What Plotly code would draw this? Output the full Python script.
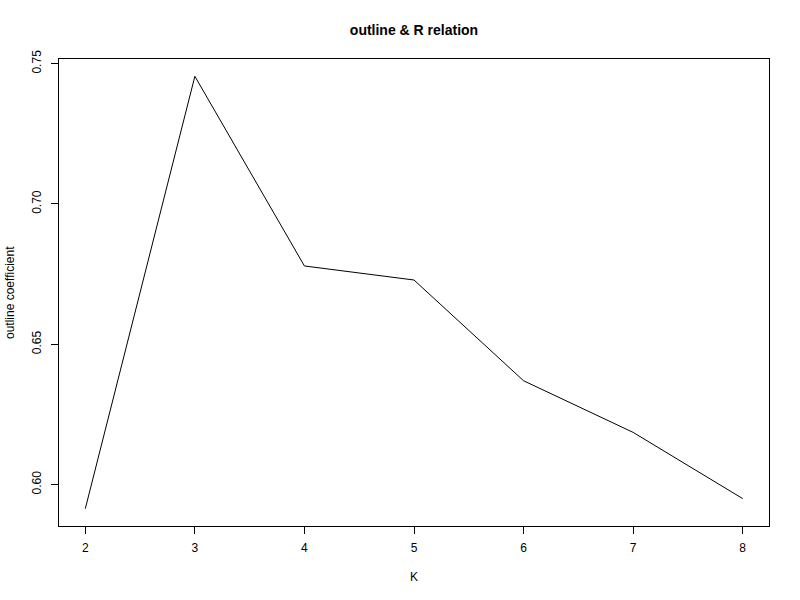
import plotly.graph_objects as go

k_values = [2, 3, 4, 5, 6, 7, 8]
coef_values = [0.5914, 0.7455, 0.6779, 0.6729, 0.6370, 0.6186, 0.5950]
x_ticks = [2, 3, 4, 5, 6, 7, 8]
y_ticks = [0.60, 0.65, 0.70, 0.75]
y_tick_text = ["0.60", "0.65", "0.70", "0.75"]

FONT = "Liberation Sans, Arial, Helvetica, sans-serif"

fig = go.Figure()
fig.add_trace(go.Scatter(x=k_values, y=coef_values, mode="lines",
                         line=dict(color="black", width=1), showlegend=False,
                         hoverinfo="skip"))

xmin, xmax = min(k_values), max(k_values)
ymin, ymax = min(coef_values), max(coef_values)
xpad = (xmax - xmin) * 0.04
ypad = (ymax - ymin) * 0.04

L, R, T, B = 59, 31, 59, 74
plot_w = 800 - L - R
plot_h = 600 - T - B

fig.update_layout(
    width=800, height=600,
    margin=dict(l=L, r=R, t=T, b=B),
    paper_bgcolor="white", plot_bgcolor="white",
    font=dict(family=FONT, size=12, color="black"),
    title=dict(text="<b>outline & R relation</b>", x=0.5, xref="paper",
               y=1 - 30 / 600, yref="container", yanchor="middle",
               font=dict(family=FONT, size=14, color="black")),
    xaxis=dict(range=[xmin - xpad, xmax + xpad], tickvals=x_ticks,
               ticks="outside", ticklen=7, tickwidth=1, tickcolor="black",
               showline=True, linecolor="black", linewidth=1, mirror=True,
               showgrid=False, zeroline=False,
               tickfont=dict(family=FONT, size=12), ticklabelstandoff=4),
    yaxis=dict(range=[ymin - ypad, ymax + ypad], tickvals=y_ticks,
               ticktext=y_tick_text, tickangle=-90,
               ticks="outside", ticklen=7, tickwidth=1, tickcolor="black",
               showline=True, linecolor="black", linewidth=1, mirror=True,
               showgrid=False, zeroline=False,
               tickfont=dict(family=FONT, size=12), ticklabelstandoff=5),
    annotations=[
        dict(text="K", x=0.5, xref="paper", y=(T + plot_h - 577) / plot_h, yref="paper",
             xanchor="center", yanchor="middle",
             showarrow=False, font=dict(family=FONT, size=12)),
        dict(text="outline coefficient", x=(10 - L) / plot_w, xref="paper",
             y=(T + plot_h - 292) / plot_h, yref="paper",
             xanchor="center", yanchor="middle",
             showarrow=False, textangle=-90, font=dict(family=FONT, size=12)),
    ],
)

fig.write_html("out.html", config={"displayModeBar": False},
               post_script="document.body.style.margin='0';document.body.style.padding='0';")
